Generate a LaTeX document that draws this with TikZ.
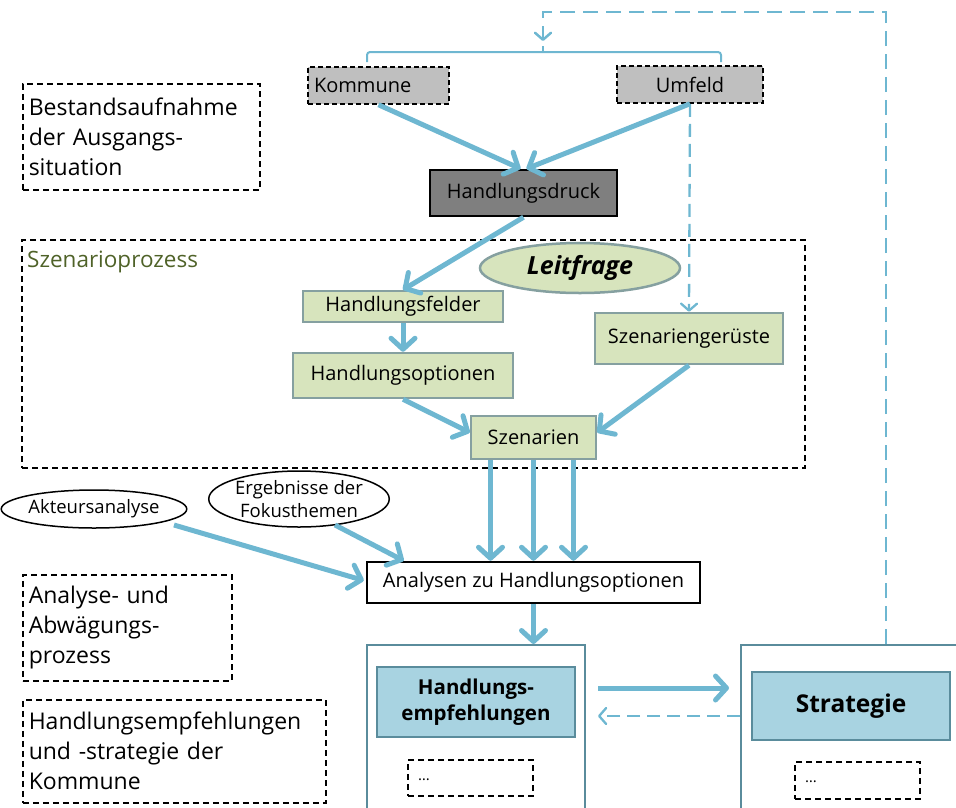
\documentclass[tikz,border=0pt]{standalone}
\usepackage{fontspec}
\setmainfont{Open Sans}
\usetikzlibrary{arrows.meta,calc,shapes.geometric}
\definecolor{arr}{RGB}{110,183,209}
\definecolor{gfill}{RGB}{215,228,189}
\definecolor{gline}{RGB}{133,160,160}
\definecolor{bfill}{RGB}{168,211,225}
\definecolor{bline}{RGB}{90,140,156}
\definecolor{kgray}{RGB}{191,191,191}
\definecolor{dgray}{RGB}{127,127,127}
\definecolor{olive}{RGB}{79,98,40}
\tikzset{
  x=1pt,y=-1pt,
  base/.style={inner sep=0pt,font=\fontsize{20}{24}\selectfont},
  graybox/.style={base,draw=black,dash pattern=on 5pt off 3pt,line width=1.5pt,fill=kgray},
  greenbox/.style={base,draw=gline,line width=2.5pt,fill=gfill},
  bluebox/.style={base,draw=bline,line width=2.5pt,fill=bfill,font=\fontsize{20.5}{26}\selectfont\bfseries,align=center},
  container/.style={draw=bline,line width=2pt},
  dashbox/.style={draw=black,dash pattern=on 6pt off 4pt,line width=1.5pt},
  textbox/.style={dashbox,inner sep=6pt,align=left,anchor=north west,font=\fontsize{23}{30}\selectfont},
  smallell/.style={ellipse,draw=black,line width=1.5pt,inner sep=0pt,font=\fontsize{18.5}{23}\selectfont,align=center},
  bigarrow/.style={draw=arr,line width=5pt,-{Straight Barb[length=11pt,width=24pt,round]}},
  thinarrow/.style={draw=arr,line width=2.3pt,dash pattern=on 13pt off 7pt,-{Straight Barb[length=7pt,width=16pt,round]}},
}
\begin{document}
\begin{tikzpicture}
\useasboundingbox (0,0) rectangle (956,807);
\clip (0,0) rectangle (956,807);

% left description boxes
\node[textbox,minimum width=237pt,minimum height=106pt,text width=225pt] (bs) at (22,83) {Bestandsaufnahme\\der Ausgangs-\\situation};
\node[textbox,minimum width=209pt,minimum height=106pt,text width=197pt] (ab) at (22,574) {Analyse- und\\Abwägungs-\\prozess};
\node[textbox,minimum width=303pt,minimum height=103pt,text width=291pt] (hk) at (22,699) {Handlungsempfehlungen\\und -strategie der\\Kommune};

% Szenarioprozess frame
\node[dashbox,minimum width=783pt,minimum height=228pt,inner sep=0pt] (sp) at (413.5,354) {};
\node[anchor=west,inner sep=0pt,text=olive,font=\fontsize{22.5}{26}\selectfont] (splabel) at (27,262) {Szenarioprozess};

% top nodes
\node[graybox,minimum width=141pt,minimum height=37pt,text width=129pt,align=left] (kom) at (378.5,85.5) {Kommune};
\node[graybox,minimum width=146pt,minimum height=37pt,align=center] (um) at (690,84.5) {Umfeld};
\node[base,draw=black,line width=2.5pt,fill=dgray,minimum width=187pt,minimum height=46pt] (hd) at (523.5,193) {Handlungsdruck};

% bracket and feedback
\coordinate (bl) at (367,62);
\coordinate (br) at (721,62);
\coordinate (bc) at (543,52);
\coordinate (btop) at (543,41);
\draw[arr,line width=2pt,rounded corners=3pt] (bl) |- (bc) -| (br);
\draw[arr,line width=2pt] (bc) -- ($(bc)+(0,-6)$);

% scenario nodes
\node[ellipse,draw=gline,line width=2.5pt,fill=gfill,minimum width=200pt,minimum height=50pt,inner sep=0pt,font=\fontsize{25}{28}\selectfont\bfseries\itshape] (leit) at (580,268) {Leitfrage};
\node[greenbox,minimum width=200pt,minimum height=31pt] (hf) at (403,306.5) {Handlungsfelder};
\node[greenbox,minimum width=220pt,minimum height=45pt] (ho) at (403,375.5) {Handlungsoptionen};
\node[greenbox,minimum width=188pt,minimum height=51pt] (sg) at (689,338.5) {Szenariengerüste};
\node[greenbox,minimum width=125pt,minimum height=43pt] (sz) at (533.5,437.5) {Szenarien};

% analysis
\node[smallell,minimum width=165pt,minimum height=38pt] (ak) at (94,509) {Akteursanalyse};
\node[smallell,minimum width=178pt,minimum height=56pt] (er) at (299,499) {Ergebnisse der\\Fokusthemen};
\node[base,draw=black,line width=2.5pt,fill=white,minimum width=333pt,minimum height=41pt] (an) at (533.5,582.5) {Analysen zu Handlungsoptionen};

% containers
\node[container,minimum width=218pt,minimum height=170pt] (lc) at (476,730) {};
\node[container,minimum width=225pt,minimum height=170pt] (rc) at (853.5,730) {};
\node[bluebox,minimum width=198pt,minimum height=70pt] (he) at (476,702) {Handlungs-\\empfehlungen};
\node[bluebox,minimum width=198pt,minimum height=68pt,font=\fontsize{24.5}{28}\selectfont\bfseries] (st) at (851,706) {Strategie};
\node[dashbox,minimum width=125pt,minimum height=36pt,inner sep=0pt,text width=105pt,align=left,font=\fontsize{15}{18}\selectfont] (d1) at (470.5,778) {\raisebox{-5pt}{\dots}};
\node[dashbox,minimum width=125pt,minimum height=37pt,inner sep=0pt,text width=105pt,align=left,font=\fontsize{15}{18}\selectfont] (d2) at (857.5,780.5) {\raisebox{-5pt}{\dots}};

% feedback dashed arrow
\coordinate (fbc) at (886,12);
\draw[thinarrow,line width=2.5pt,dash pattern=on 15pt off 8pt] (rc.north -| fbc) -- (fbc) -| (btop);

% big arrows
\draw[bigarrow] (kom.south) -- ([xshift=-3pt]hd.north);
\draw[bigarrow] (um.south) -- ([xshift=3pt]hd.north);
\draw[thinarrow] (um.south) -- (sg.north);
\draw[bigarrow] (hd.south) -- (hf.north);
\draw[bigarrow] (hf.south) -- (ho.north);
\draw[bigarrow] (ho.south) -- ([yshift=5pt]sz.west);
\draw[bigarrow] (sg.south) -- ([yshift=5pt]sz.east);
\draw[bigarrow] ([xshift=-43pt]sz.south) -- ([xshift=-43pt]an.north);
\draw[bigarrow] (sz.south) -- (an.north);
\draw[bigarrow] ([xshift=40pt]sz.south) -- ([xshift=40pt]an.north);
\draw[bigarrow] ([xshift=80pt,yshift=-16pt]ak.center) -- ([xshift=-2pt,yshift=2pt]an.west);
\draw[bigarrow] ([xshift=36pt,yshift=-26pt]er.center) -- ([xshift=38pt]an.north west);
\draw[bigarrow] (an.south) -- (an.south |- lc.north);
\draw[bigarrow] ([xshift=12pt,yshift=14pt]he.east -| lc.east) -- ([xshift=-11pt,yshift=14pt]he.east -| rc.west);
\draw[thinarrow] ([yshift=-14pt]he.east -| rc.west) -- ([xshift=12pt,yshift=-14pt]he.east -| lc.east);
\end{tikzpicture}
\end{document}
